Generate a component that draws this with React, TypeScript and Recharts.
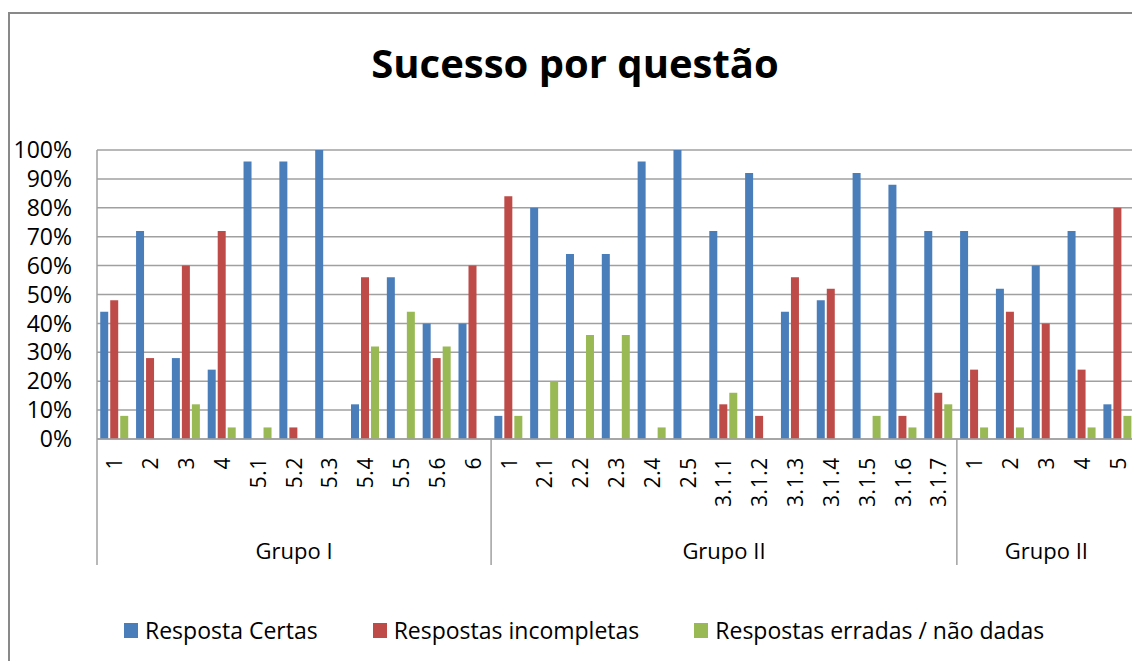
import { BarChart, Bar, XAxis, YAxis, CartesianGrid, Legend } from "recharts";

const questoes = [
  "1", "2", "3", "4", "5.1", "5.2", "5.3", "5.4", "5.5", "5.6", "6",
  "1", "2.1", "2.2", "2.3", "2.4", "2.5", "3.1.1", "3.1.2", "3.1.3", "3.1.4", "3.1.5", "3.1.6", "3.1.7",
  "1", "2", "3", "4", "5",
];
const grupoNomes = ["Grupo I", "Grupo II", "Grupo II"];
const grupoTamanhos = [11, 13, 5];

const certas = [44, 72, 28, 24, 96, 96, 100, 12, 56, 40, 40, 8, 80, 64, 64, 96, 100, 72, 92, 44, 48, 92, 88, 72, 72, 52, 60, 72, 12];
const incompletas = [48, 28, 60, 72, 0, 4, 0, 56, 0, 28, 60, 84, 0, 0, 0, 0, 0, 12, 8, 56, 52, 0, 8, 16, 24, 44, 40, 24, 80];
const erradas = [8, 0, 12, 4, 4, 0, 0, 32, 44, 32, 0, 8, 20, 36, 36, 4, 0, 16, 0, 0, 0, 8, 4, 12, 4, 4, 0, 4, 8];

const yTicks = [0, 10, 20, 30, 40, 50, 60, 70, 80, 90, 100];

const series = [
  { key: "certas", name: "Resposta Certas", color: "#4A7EBB" },
  { key: "incompletas", name: "Respostas incompletas", color: "#BE4B48" },
  { key: "erradas", name: "Respostas erradas / não dadas", color: "#98B954" },
];

const data = questoes.map((q, i) => ({
  q,
  certas: certas[i],
  incompletas: incompletas[i],
  erradas: erradas[i],
}));

// index of the first question in each group
const grupoInicio = grupoTamanhos.map((_, g) =>
  grupoTamanhos.slice(0, g).reduce((a, b) => a + b, 0)
);

const FONT = "'Open Sans', sans-serif";
const GRID = "#a0a0a0";

const CategoryTick = (props: any) => {
  const { x, y, index, payload } = props;
  const half = payload?.offset || 17.9;
  const bx = x + 7.5;
  const by = y + 18;
  const g = grupoInicio.indexOf(index);
  return (
    <g>
      <text
        x={bx}
        y={by}
        transform={`rotate(-90 ${bx} ${by})`}
        textAnchor="end"
        fontSize={21}
        fontFamily={FONT}
        letterSpacing={0.6}
        fill="#000"
      >
        {questoes[index]}
      </text>
      {g >= 0 && (
        <>
          <line x1={x - half} x2={x - half} y1={y} y2={y + 126} stroke={GRID} strokeWidth={1.5} />
          <text
            x={x - half + grupoTamanhos[g] * half}
            y={y + 120}
            textAnchor="middle"
            fontSize={22}
            fontFamily={FONT}
            fill="#000"
          >
            {grupoNomes[g]}
          </text>
        </>
      )}
      {index === questoes.length - 1 && (
        <line x1={x + half} x2={x + half} y1={y} y2={y + 126} stroke={GRID} strokeWidth={1.5} />
      )}
    </g>
  );
};

const LegendContent = () => (
  <div style={{ display: "flex", alignItems: "center", height: 30, paddingLeft: 124, fontFamily: FONT, fontSize: 23, color: "#000" }}>
    {series.map(s => (
      <div key={s.key} style={{ display: "flex", alignItems: "center", marginRight: 55, whiteSpace: "nowrap" }}>
        <span style={{ width: 14, height: 15, background: s.color, display: "inline-block", marginRight: 7 }} />
        <span>{s.name}</span>
      </div>
    ))}
  </div>
);

export default function App() {
  return (
    <div style={{ position: "absolute", left: 0, top: 0, width: 1132, height: 661, overflow: "hidden", background: "#fff" }}>
      <div style={{ position: "absolute", left: 8, top: 12, width: 2000, height: 2000, borderLeft: "2px solid #898989", borderTop: "2px solid #898989" }} />
      <svg width={1132} height={100} style={{ position: "absolute", left: 0, top: 0 }}>
        <text x={575} y={78} textAnchor="middle" fontFamily={FONT} fontWeight={700} fontSize={40} fill="#000">
          Sucesso por questão
        </text>
      </svg>
      <div style={{ position: "absolute", left: 0, top: 0 }}>
        <BarChart
          width={1140}
          height={661}
          data={data}
          margin={{ top: 150, right: 4, left: 0, bottom: 16 }}
          barGap={2}
          barCategoryGap="9%"
        >
          <CartesianGrid vertical={false} stroke={GRID} strokeWidth={1.5} />
          <XAxis
            dataKey="q"
            interval={0}
            tickLine={false}
            tickSize={0}
            tickMargin={0}
            height={176}
            axisLine={{ stroke: GRID, strokeWidth: 1.5 }}
            tick={<CategoryTick />}
          />
          <YAxis
            width={97}
            domain={[0, 100]}
            ticks={yTicks}
            interval={0}
            tickFormatter={(v: number) => `${v}%`}
            tickLine={false}
            tickSize={0}
            tickMargin={25}
            axisLine={{ stroke: GRID, strokeWidth: 1.5 }}
            tick={{ fontSize: 23, fontFamily: FONT, fill: "#000" }}
          />
          <Legend verticalAlign="bottom" content={<LegendContent />} />
          {series.map(s => (
            <Bar key={s.key} dataKey={s.key} name={s.name} fill={s.color} isAnimationActive={false} />
          ))}
        </BarChart>
      </div>
    </div>
  );
}
